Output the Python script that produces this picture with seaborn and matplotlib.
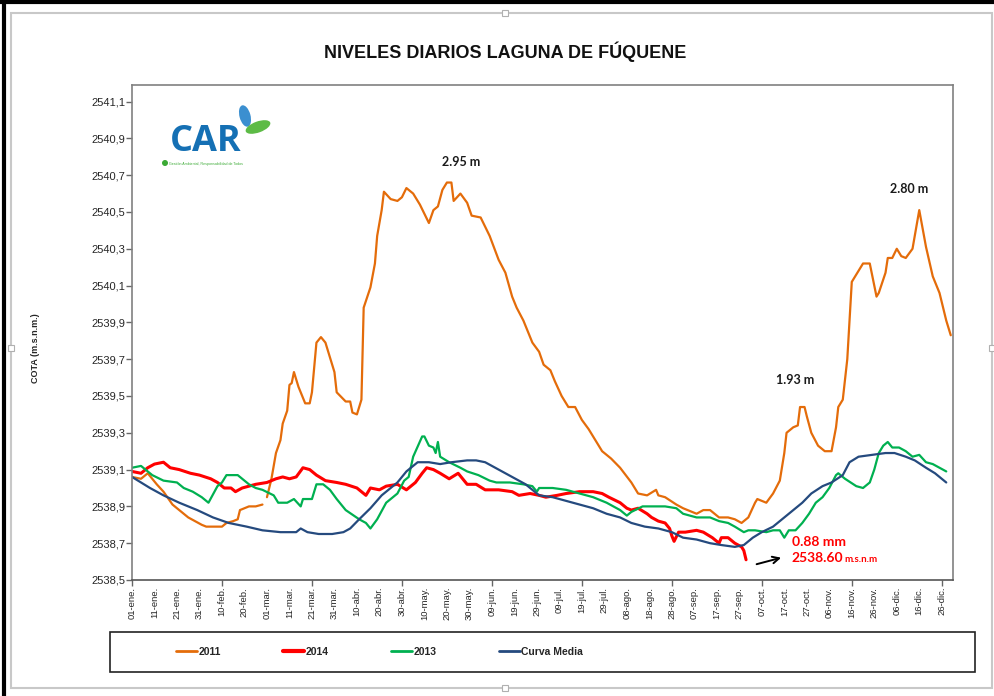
"""
Niveles diarios de la Laguna de Fúquene: cota diaria (m.s.n.m.) de los años
2011, 2013, 2014 y la curva media, dibujada con seaborn/matplotlib.
"""

import matplotlib.pyplot as plt
import matplotlib.patches as mpatches
import matplotlib.transforms as mtransforms
from matplotlib.lines import Line2D
import seaborn as sns

# ---------------------------------------------------------------------------
# Data (day of year, 0 = 01-ene)
# ---------------------------------------------------------------------------
y2011_a_days = [0, 4, 7, 11, 14, 18, 22, 25, 28, 31, 33, 36, 40, 42, 45, 47,
                48, 50, 52, 55, 58]
y2011_a_vals = [2539.06, 2539.05, 2539.08, 2539.02, 2538.98, 2538.91, 2538.87,
                2538.84, 2538.82, 2538.80, 2538.79, 2538.79, 2538.79, 2538.81,
                2538.82, 2538.83, 2538.88, 2538.89, 2538.90, 2538.90, 2538.91]

y2011_b_days = [60, 62, 64, 66, 67, 69, 70, 71, 72, 74, 77, 79, 80, 82, 84, 86,
                88, 90, 91, 95, 97, 98, 100, 102, 103, 106, 108, 109, 111, 112,
                115, 118, 120, 122, 125, 128, 130, 132, 134, 136, 138, 140, 142,
                143, 146, 149, 151, 155, 159, 163, 166, 169, 171, 174, 178, 181,
                183, 186, 188, 191, 194, 197, 200, 203, 206, 209, 213, 217, 222,
                225, 229, 233, 234, 237, 242, 245, 251, 254, 257, 261, 265, 268,
                271, 274, 277, 278, 282, 285, 288, 290, 291, 294, 296, 297, 299,
                300, 302, 305, 308, 311, 313, 314, 316, 318, 319, 320, 323, 325,
                328, 329, 331, 332, 335, 336, 338, 340, 342, 344, 347, 350, 353,
                356, 359, 362, 364]
y2011_b_vals = [2538.95, 2539.05, 2539.19, 2539.26, 2539.35, 2539.42, 2539.56,
                2539.57, 2539.63, 2539.55, 2539.46, 2539.46, 2539.52, 2539.79,
                2539.82, 2539.79, 2539.71, 2539.63, 2539.52, 2539.47, 2539.47,
                2539.41, 2539.40, 2539.48, 2539.98, 2540.09, 2540.22, 2540.37,
                2540.51, 2540.61, 2540.57, 2540.56, 2540.58, 2540.63, 2540.60,
                2540.54, 2540.49, 2540.44, 2540.51, 2540.53, 2540.62, 2540.66,
                2540.66, 2540.56, 2540.60, 2540.55, 2540.48, 2540.47, 2540.37,
                2540.24, 2540.17, 2540.04, 2539.98, 2539.91, 2539.79, 2539.74,
                2539.67, 2539.64, 2539.58, 2539.50, 2539.44, 2539.44, 2539.37,
                2539.32, 2539.26, 2539.20, 2539.16, 2539.11, 2539.03, 2538.97,
                2538.96, 2538.99, 2538.96, 2538.95, 2538.91, 2538.89, 2538.86,
                2538.88, 2538.88, 2538.84, 2538.84, 2538.83, 2538.81, 2538.84,
                2538.92, 2538.94, 2538.92, 2538.97, 2539.04, 2539.19, 2539.30,
                2539.33, 2539.34, 2539.44, 2539.44, 2539.39, 2539.30, 2539.23,
                2539.20, 2539.20, 2539.33, 2539.44, 2539.48, 2539.70, 2539.91,
                2540.12, 2540.18, 2540.22, 2540.22, 2540.16, 2540.04, 2540.06,
                2540.17, 2540.25, 2540.25, 2540.30, 2540.26, 2540.25, 2540.30,
                2540.51, 2540.31, 2540.15, 2540.06, 2539.91, 2539.83]

y2014_days = [0, 4, 7, 10, 14, 17, 21, 26, 30, 35, 38, 41, 44, 46, 49, 52, 55,
              60, 64, 67, 70, 73, 76, 79, 82, 86, 91, 95, 100, 104, 106, 110,
              113, 118, 122, 126, 129, 131, 134, 137, 141, 145, 149, 153, 157,
              163, 169, 172, 177, 181, 184, 189, 193, 199, 205, 209, 212, 217,
              220, 222, 225, 229, 231, 234, 237, 239, 240, 241, 243, 246, 251,
              254, 258, 261, 262, 265, 268, 271, 272, 273]
y2014_vals = [2539.09, 2539.08, 2539.11, 2539.13, 2539.14, 2539.11, 2539.10,
              2539.08, 2539.07, 2539.05, 2539.03, 2539.00, 2539.00, 2538.98,
              2539.00, 2539.01, 2539.02, 2539.03, 2539.05, 2539.06, 2539.05,
              2539.06, 2539.11, 2539.10, 2539.07, 2539.04, 2539.03, 2539.02,
              2539.00, 2538.96, 2539.00, 2538.99, 2539.01, 2539.02, 2538.99,
              2539.03, 2539.08, 2539.11, 2539.10, 2539.08, 2539.05, 2539.08,
              2539.02, 2539.02, 2538.99, 2538.99, 2538.98, 2538.96, 2538.97,
              2538.96, 2538.95, 2538.96, 2538.97, 2538.98, 2538.98, 2538.97,
              2538.95, 2538.92, 2538.89, 2538.88, 2538.89, 2538.86, 2538.84,
              2538.82, 2538.81, 2538.78, 2538.74, 2538.71, 2538.76, 2538.76,
              2538.77, 2538.76, 2538.73, 2538.70, 2538.73, 2538.73, 2538.70,
              2538.68, 2538.66, 2538.61]

y2013_days = [0, 4, 6, 9, 14, 20, 23, 27, 31, 34, 38, 40, 42, 47, 49, 52, 55,
              58, 63, 65, 69, 72, 75, 76, 80, 82, 85, 88, 91, 95, 101, 104, 106,
              109, 113, 118, 121, 123, 125, 129, 130, 132, 134, 135, 136, 137,
              141, 146, 149, 154, 159, 162, 168, 174, 178, 180, 181, 187, 193,
              199, 205, 211, 217, 220, 222, 227, 231, 237, 242, 245, 251, 257,
              261, 265, 268, 272, 274, 277, 282, 285, 288, 290, 292, 295, 298,
              301, 304, 307, 310, 313, 314, 317, 322, 325, 328, 330, 332, 334,
              336, 338, 341, 344, 347, 350, 353, 356, 359, 362]
y2013_vals = [2539.11, 2539.12, 2539.10, 2539.07, 2539.04, 2539.03, 2539.00,
              2538.98, 2538.95, 2538.92, 2539.01, 2539.03, 2539.07, 2539.07,
              2539.05, 2539.02, 2539.00, 2538.99, 2538.96, 2538.92, 2538.92,
              2538.94, 2538.90, 2538.94, 2538.94, 2539.02, 2539.02, 2538.99,
              2538.94, 2538.88, 2538.83, 2538.81, 2538.78, 2538.83, 2538.92,
              2538.97, 2539.04, 2539.06, 2539.17, 2539.28, 2539.28, 2539.23,
              2539.22, 2539.19, 2539.25, 2539.17, 2539.14, 2539.11, 2539.09,
              2539.07, 2539.04, 2539.03, 2539.03, 2539.02, 2539.01, 2538.98,
              2539.00, 2539.00, 2538.99, 2538.97, 2538.95, 2538.92, 2538.88,
              2538.85, 2538.87, 2538.90, 2538.90, 2538.90, 2538.89, 2538.86,
              2538.84, 2538.84, 2538.82, 2538.81, 2538.79, 2538.76, 2538.77,
              2538.77, 2538.76, 2538.77, 2538.77, 2538.73, 2538.77, 2538.77,
              2538.81, 2538.86, 2538.92, 2538.95, 2539.00, 2539.07, 2539.08,
              2539.05, 2539.01, 2539.00, 2539.03, 2539.10, 2539.19, 2539.23,
              2539.25, 2539.22, 2539.22, 2539.20, 2539.17, 2539.18, 2539.14,
              2539.13, 2539.11, 2539.09]

media_days = [0, 4, 8, 14, 21, 29, 36, 43, 51, 58, 66, 73, 75, 78, 83, 89, 94,
              97, 101, 106, 111, 118, 122, 127, 132, 137, 142, 149, 153, 157,
              163, 169, 175, 181, 187, 193, 199, 205, 211, 217, 222, 228, 234,
              240, 245, 251, 257, 262, 268, 272, 276, 280, 285, 289, 293, 298,
              302, 307, 311, 316, 319, 323, 329, 335, 339, 344, 348, 353, 357,
              362]
media_vals = [2539.06, 2539.03, 2539.00, 2538.96, 2538.92, 2538.88, 2538.84,
              2538.81, 2538.79, 2538.77, 2538.76, 2538.76, 2538.78, 2538.76,
              2538.75, 2538.75, 2538.76, 2538.78, 2538.83, 2538.89, 2538.96,
              2539.03, 2539.09, 2539.14, 2539.14, 2539.13, 2539.14, 2539.15,
              2539.15, 2539.14, 2539.10, 2539.06, 2539.02, 2538.96, 2538.95,
              2538.93, 2538.91, 2538.89, 2538.86, 2538.84, 2538.81, 2538.79,
              2538.78, 2538.76, 2538.73, 2538.72, 2538.70, 2538.69, 2538.68,
              2538.69, 2538.73, 2538.76, 2538.79, 2538.83, 2538.87, 2538.92,
              2538.97, 2539.01, 2539.03, 2539.07, 2539.14, 2539.17, 2539.18,
              2539.19, 2539.19, 2539.17, 2539.15, 2539.11, 2539.08, 2539.03]

# x-axis labels every 10 days (leap-year calendar), tick marks every 40 days
date_labels = ['01-ene.', '11-ene.', '21-ene.', '31-ene.', '10-feb.', '20-feb.',
               '01-mar.', '11-mar.', '21-mar.', '31-mar.', '10-abr.', '20-abr.',
               '30-abr.', '10-may.', '20-may.', '30-may.', '09-jun.', '19-jun.',
               '29-jun.', '09-jul.', '19-jul.', '29-jul.', '08-ago.', '18-ago.',
               '28-ago.', '07-sep.', '17-sep.', '27-sep.', '07-oct.', '17-oct.',
               '27-oct.', '06-nov.', '16-nov.', '26-nov.', '06-dic.', '16-dic.',
               '26-dic.']
y_ticks = [2538.5, 2538.7, 2538.9, 2539.1, 2539.3, 2539.5, 2539.7, 2539.9,
           2540.1, 2540.3, 2540.5, 2540.7, 2540.9, 2541.1]

C2011 = '#E46C0A'
C2014 = '#FF0000'
C2013 = '#00B050'
CMEDIA = '#254A7E'

W, H = 995, 696


def main():
    sns.set_theme(style='white')
    plt.rcParams['font.family'] = ['Liberation Sans', 'DejaVu Sans']

    fig = plt.figure(figsize=(W / 100, H / 100), dpi=100)
    # transform in image pixels, origin at the top-left corner
    px = mtransforms.Affine2D().scale(1 / W, -1 / H).translate(0, 1) + fig.transFigure

    # plot area: x 132..953, y 85..580 (pixels)
    ax = fig.add_axes([132 / W, 1 - 580 / H, (953 - 132) / W, (580 - 85) / H])

    kw = dict(ax=ax, estimator=None, sort=False, legend=False)
    sns.lineplot(x=y2011_a_days, y=y2011_a_vals, color=C2011, lw=1.6, **kw)
    sns.lineplot(x=y2011_b_days, y=y2011_b_vals, color=C2011, lw=1.6, **kw)
    sns.lineplot(x=y2014_days, y=y2014_vals, color=C2014, lw=2.2, **kw)
    sns.lineplot(x=y2013_days, y=y2013_vals, color=C2013, lw=1.6, **kw)
    sns.lineplot(x=media_days, y=media_vals, color=CMEDIA, lw=1.6, **kw)

    ax.set_xlim(0, 365)
    ax.set_ylim(2538.5, 2541.19)
    ax.set_xlabel('')
    ax.set_ylabel('')

    ax.set_xticks([i * 10 for i in range(len(date_labels))])
    ax.set_xticklabels(date_labels, rotation=90, fontsize=6.8)
    ax.set_xticks([i * 40 for i in range(10)], minor=True)
    ax.xaxis.remove_overlapping_locs = False
    ax.tick_params(axis='x', which='major', length=0, pad=5)
    ax.tick_params(axis='x', which='minor', length=4, width=1, color='#666666',
                   bottom=True)

    ax.set_yticks(y_ticks)
    ax.set_yticklabels([f'{v:.1f}'.replace('.', ',') for v in y_ticks], fontsize=8)
    ax.tick_params(axis='y', length=4, width=1, color='#666666', left=True, pad=1)

    for side in ['left', 'right', 'top', 'bottom']:
        ax.spines[side].set_color('#808080')
        ax.spines[side].set_linewidth(1.2)
    ax.spines['bottom'].set_color('#555555')

    # peak annotations
    bold = dict(family=['Lato', 'DejaVu Sans'], fontweight='bold')
    ax.text(146.5, 2540.774, '2.95 m', ha='center', va='center', fontsize=9,
            color='#1a1a1a', **bold)
    ax.text(294.7, 2539.588, '1.93 m', ha='center', va='center', fontsize=9,
            color='#1a1a1a', **bold)
    ax.text(345.3, 2540.627, '2.80 m', ha='center', va='center', fontsize=9,
            color='#1a1a1a', **bold)
    ax.text(293.4, 2538.685, '0.88 mm', ha='left', va='baseline', fontsize=10,
            color='#FF0000', **bold)
    ax.text(293.4, 2538.598, '2538.60', ha='left', va='baseline', fontsize=10,
            color='#FF0000', **bold)
    ax.text(316.5, 2538.598, 'm.s.n.m', ha='left', va='baseline', fontsize=7,
            color='#FF0000', **bold)
    ax.annotate('', xy=(289.8, 2538.625), xytext=(276.5, 2538.582),
                arrowprops=dict(arrowstyle='->', color='black', lw=1.4))

    # CAR logo (upper left of the plot area)
    fig.text(206, 151, 'CAR', transform=px, ha='center', va='baseline',
             fontsize=26, fontweight='bold', color='#1570B4',
             family=['Open Sans', 'DejaVu Sans'])
    fig.patches.append(mpatches.Ellipse((245, 116), 11, 22, angle=-15,
                                        transform=px, facecolor='#3B8FD0',
                                        edgecolor='none'))
    fig.patches.append(mpatches.Ellipse((258, 127), 26, 11, angle=-20,
                                        transform=px, facecolor='#5DBB46',
                                        edgecolor='none'))
    fig.patches.append(mpatches.Circle((165, 163), 3, transform=px,
                                       facecolor='#3BAA35', edgecolor='none'))
    fig.text(169, 163.5, 'Gestión Ambiental, Responsabilidad de Todos',
             transform=px, ha='left', va='center', fontsize=2.6,
             color='#3BAA35')

    # title and y label
    fig.text(505, 52, 'NIVELES DIARIOS LAGUNA DE FÚQUENE', transform=px,
             ha='center', va='center', fontsize=13, fontweight='bold',
             color='#111111')
    fig.text(35, 348, 'COTA (m.s.n.m.)', transform=px, rotation=90,
             ha='center', va='center', fontsize=6.5, fontweight='bold')

    # legend in its own box below the chart
    fig.patches.append(mpatches.Rectangle((110, 632), 865, 40, transform=px,
                                          facecolor='none', edgecolor='#222222',
                                          lw=1.2))
    handles = [Line2D([], [], color=C2011, lw=2),
               Line2D([], [], color=C2014, lw=3),
               Line2D([], [], color=C2013, lw=2),
               Line2D([], [], color=CMEDIA, lw=2)]
    fig.legend(handles, ['2011', '2014', '2013', 'Curva Media'], ncol=4,
               loc='center left', bbox_to_anchor=(176 / W, 1 - 652 / H),
               frameon=False, prop=dict(weight='bold', size=7.5),
               handlelength=2.0, handletextpad=0.15, columnspacing=6.0,
               borderpad=0, borderaxespad=0)

    # outer frame of the pasted chart
    fig.patches.append(mpatches.Rectangle((11, 13), 981, 675, transform=px,
                                          facecolor='none', edgecolor='#c8c8c8',
                                          lw=1.5))
    fig.lines.append(Line2D([0, 995], [2, 2], transform=px, color='black', lw=3))
    fig.lines.append(Line2D([4, 4], [0, 696], transform=px, color='black', lw=3))
    for hx, hy in [(505, 13), (11, 348), (992, 348), (505, 688)]:
        fig.patches.append(mpatches.Rectangle((hx - 3, hy - 3), 6, 6, transform=px,
                                              facecolor='white',
                                              edgecolor='#b0b0b0', lw=0.8))

    fig.savefig('out.png', dpi=100)
    plt.close(fig)


if __name__ == '__main__':
    main()
